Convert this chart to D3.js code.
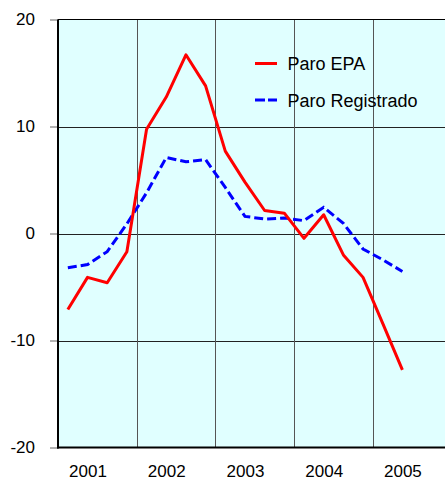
<!DOCTYPE html>
<html>
<head>
<meta charset="utf-8">
<script src="https://cdn.jsdelivr.net/npm/d3@7"></script>
<style>
body { margin: 0; background: #fff; }
text { font-family: "Liberation Sans", Arial, sans-serif; fill: #000; }
</style>
</head>
<body>
<svg id="chart"></svg>
<script>
// quarterly % change, 2001-I .. 2005-II
var years = ["2001", "2002", "2003", "2004", "2005"];
var yTicks = [-20, -10, 0, 10, 20];
var paroEPA = [-7.1, -4.1, -4.6, -1.7, 9.75, 12.75, 16.7, 13.8, 7.7, 4.8, 2.15, 1.9, -0.45, 1.75, -2.0, -4.1, -8.4, -12.75];
var paroReg = [-3.2, -2.9, -1.7, 0.9, 3.8, 7.1, 6.7, 6.9, 4.3, 1.6, 1.35, 1.45, 1.2, 2.45, 0.95, -1.45, -2.45, -3.55];
var seriesNames = ["Paro EPA", "Paro Registrado"];

var width = 445, height = 480;
var plotLeft = 58, plotTop = 19.5, plotBottom = 447.5;
var nQuarters = years.length * 4;

var svg = d3.select("#chart").attr("width", width).attr("height", height);

var x = d3.scaleLinear().domain([0, nQuarters]).range([plotLeft, plotLeft + nQuarters * 19.68]);
var y = d3.scaleLinear().domain([-20, 20]).range([plotBottom, plotTop]);

// plot background
svg.append("rect")
    .attr("x", plotLeft).attr("y", plotTop)
    .attr("width", x(nQuarters) - plotLeft).attr("height", plotBottom - plotTop)
    .style("fill", "#E0FFFF");

// gridlines
svg.selectAll(".hgrid").data([-10, 0, 10]).enter().append("line")
    .attr("x1", plotLeft).attr("x2", x(nQuarters))
    .attr("y1", function(d) { return Math.round(y(d)) + 0.5; })
    .attr("y2", function(d) { return Math.round(y(d)) + 0.5; })
    .style("stroke", "#222").style("stroke-width", 1);

svg.selectAll(".vgrid").data([4, 8, 12, 16]).enter().append("line")
    .attr("x1", function(d) { return Math.round(x(d)) + 0.5; })
    .attr("x2", function(d) { return Math.round(x(d)) + 0.5; })
    .attr("y1", plotTop).attr("y2", plotBottom)
    .style("stroke", "#555").style("stroke-width", 1);

// top border
svg.append("line")
    .attr("x1", plotLeft).attr("x2", x(nQuarters))
    .attr("y1", plotTop).attr("y2", plotTop)
    .style("stroke", "#000").style("stroke-width", 1);

// y axis (plain hyphen minus, like the original)
var yAxis = d3.axisLeft(y).tickValues(yTicks).tickSize(8).tickPadding(15)
    .tickFormat(function(d) { return String(d); });
var gy = svg.append("g").attr("transform", "translate(" + plotLeft + ",0)").call(yAxis);
gy.select(".domain").remove();
gy.selectAll(".tick line").style("stroke", "#666");
gy.selectAll(".tick text").style("font-size", "17px").style("font-family", "Liberation Sans, Arial, sans-serif");

// x axis labels, one per year
var xAxis = d3.axisBottom(x)
    .tickValues(years.map(function(d, i) { return i * 4 + 1.5; }))
    .tickFormat(function(d, i) { return years[i]; })
    .tickSize(0);
var gx = svg.append("g").attr("transform", "translate(0," + plotBottom + ")").call(xAxis);
gx.select(".domain").remove();
gx.selectAll(".tick text").attr("y", 29.5).attr("dy", 0)
    .style("font-size", "17px").style("font-family", "Liberation Sans, Arial, sans-serif");

// axis lines
svg.append("line").attr("x1", plotLeft).attr("x2", plotLeft).attr("y1", plotTop).attr("y2", plotBottom + 1)
    .style("stroke", "#000").style("stroke-width", 2);
svg.append("line").attr("x1", plotLeft - 1).attr("x2", x(nQuarters)).attr("y1", plotBottom).attr("y2", plotBottom)
    .style("stroke", "#000").style("stroke-width", 2);

// series
var line = d3.line()
    .x(function(d, i) { return x(i + 0.5); })
    .y(function(d) { return y(d); });

svg.append("path").datum(paroReg)
    .attr("d", line)
    .style("fill", "none").style("stroke", "#0000FF").style("stroke-width", 3)
    .style("stroke-dasharray", "9,4");

svg.append("path").datum(paroEPA)
    .attr("d", line)
    .style("fill", "none").style("stroke", "#FF0000").style("stroke-width", 3)
    .style("stroke-linejoin", "round");

// legend
var legend = [
    {name: seriesNames[0], color: "#FF0000", dash: null, ly: 63.5},
    {name: seriesNames[1], color: "#0000FF", dash: "10,3", ly: 100}
];
legend.forEach(function(l) {
    svg.append("line")
        .attr("x1", 255).attr("x2", 277)
        .attr("y1", l.ly).attr("y2", l.ly)
        .style("stroke", l.color).style("stroke-width", 3)
        .style("stroke-dasharray", l.dash);
    svg.append("text")
        .attr("x", 287.5).attr("y", l.ly + 6.5)
        .style("font-size", "18px")
        .text(l.name);
});
</script>
</body>
</html>
